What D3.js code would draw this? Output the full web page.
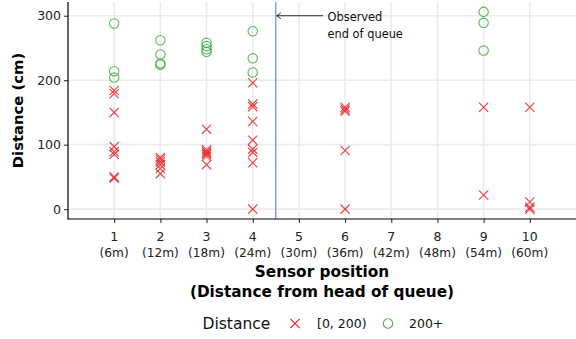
<!DOCTYPE html>
<html><head><meta charset="utf-8">
<script src="https://cdn.jsdelivr.net/npm/d3@7"></script>
<style>body{margin:0;background:#fff}svg{display:block}text{font-family:"DejaVu Sans",sans-serif}</style>
</head><body><svg id="c" width="576" height="339"></svg>
<script>
// Sensor positions and tick labels
const xTicks = [1,2,3,4,5,6,7,8,9,10];
const xTickLine2 = ["(6m)","(12m)","(18m)","(24m)","(30m)","(36m)","(42m)","(48m)","(54m)","(60m)"];
const yTicks = [0,100,200,300];
// Distance [0, 200) readings
const lowPos = [1,1,1,1,1,1,1,1, 2,2,2,2,2,2, 3,3,3,3,3,3,3, 4,4,4,4,4,4,4,4,4, 6,6,6,6,6, 9,9, 10,10,10,10];
const lowVal = [184,179,150,97,89,85,50,48, 80,77,73,69,63,55, 124,92,89,87,85,82,69, 196,163,159,136,107,93,88,72,0, 158,155,152,91,0, 158,22, 158,11,3,0];
// Distance 200+ readings
const highPos = [1,1,1, 2,2,2,2, 3,3,3,3, 4,4,4, 9,9,9];
const highVal = [288,214,204, 262,240,226,224, 258,253,248,244, 276,234,212, 306,289,246];
const queueEnd = 4.5;
const annotation = ["Observed","end of queue"];

const svg = d3.select("#c");
const L=68, R=576, T=2, B=219;
const x = d3.scaleLinear().domain([0,11]).range([L,R]);
const y = d3.scaleLinear().domain([-15.3,321.3]).range([B,T]);
const red="#e8262a", green="#4daf4a";

// grid
const g = svg.append("g");
g.selectAll(".gx").data(xTicks).join("line").attr("x1",d=>x(d)).attr("x2",d=>x(d)).attr("y1",T).attr("y2",B).attr("stroke","#ebebeb").attr("stroke-width",1.6);
g.selectAll(".gy").data(yTicks).join("line").attr("x1",L).attr("x2",R).attr("y1",d=>y(d)).attr("y2",d=>y(d)).attr("stroke","#ebebeb").attr("stroke-width",1.6);

// queue end line
svg.append("line").attr("x1",x(queueEnd)).attr("x2",x(queueEnd)).attr("y1",T).attr("y2",B).attr("stroke","#2f7fcf").attr("stroke-width",1);

// points
const cs=4.6;
const low = lowPos.map((p,i)=>({p, v:lowVal[i]}));
const high = highPos.map((p,i)=>({p, v:highVal[i]}));
svg.append("g").selectAll("path").data(low).join("path")
  .attr("d",d=>{const cx=x(d.p), cy=y(d.v);return `M${cx-cs},${cy-cs}L${cx+cs},${cy+cs}M${cx-cs},${cy+cs}L${cx+cs},${cy-cs}`;})
  .attr("stroke",red).attr("stroke-width",1.2).attr("fill","none").attr("opacity",0.85);
svg.append("g").selectAll("circle").data(high).join("circle")
  .attr("cx",d=>x(d.p)).attr("cy",d=>y(d.v)).attr("r",4.7)
  .attr("stroke",green).attr("stroke-width",1.1).attr("fill","none").attr("opacity",0.9);

// axes
const ya = svg.append("g").attr("transform",`translate(${L},0)`).call(d3.axisLeft(y).tickValues(yTicks).tickSize(4).tickPadding(3));
ya.select(".domain").remove();
ya.selectAll("line").attr("stroke","#333").attr("stroke-width",1.1);
ya.selectAll("text").attr("font-size",12.5).attr("fill","#222").attr("font-family","DejaVu Sans");
const xa = svg.append("g").attr("transform",`translate(0,${B})`).call(d3.axisBottom(x).tickValues(xTicks).tickSize(4).tickFormat(""));
xa.select(".domain").remove();
xa.selectAll("line").attr("stroke","#333").attr("stroke-width",1.1);
svg.append("g").selectAll("text").data(xTicks).join("text").attr("x",d=>x(d)).attr("y",240.5).attr("text-anchor","middle").attr("font-size",12.5).attr("fill","#222").text(d=>d);
svg.append("g").selectAll("text").data(xTickLine2).join("text").attr("x",(d,i)=>x(xTicks[i])).attr("y",257).attr("text-anchor","middle").attr("font-size",12.2).attr("fill","#222").text(d=>d);
svg.append("line").attr("x1",L).attr("x2",L).attr("y1",T).attr("y2",B+0.6).attr("stroke","#000").attr("stroke-width",1.2);
svg.append("line").attr("x1",L).attr("x2",R).attr("y1",B).attr("y2",B).attr("stroke","#000").attr("stroke-width",1.2);

// axis titles
svg.append("text").attr("transform",`translate(23,${(T+B)/2}) rotate(-90)`).attr("text-anchor","middle").attr("font-size",14.8).attr("font-weight","bold").text("Distance (cm)");
svg.append("text").attr("x",(L+R)/2).attr("y",277).attr("text-anchor","middle").attr("font-size",15.3).attr("font-weight","bold").text("Sensor position");
svg.append("text").attr("x",(L+R)/2).attr("y",297).attr("text-anchor","middle").attr("font-size",15.3).attr("font-weight","bold").text("(Distance from head of queue)");

// annotation
const ay = y(300);
svg.append("line").attr("x1",323).attr("x2",x(queueEnd)+1).attr("y1",ay).attr("y2",ay).attr("stroke","#000").attr("stroke-width",0.8);
svg.append("path").attr("d",`M${x(queueEnd)+5},${ay-3}L${x(queueEnd)+1},${ay}L${x(queueEnd)+5},${ay+3}`).attr("stroke","#000").attr("stroke-width",0.8).attr("fill","none");
svg.append("text").attr("x",327.5).attr("y",21).attr("font-size",11.4).attr("fill","#111").text(annotation[0]);
svg.append("text").attr("x",327.5).attr("y",37.5).attr("font-size",11.4).attr("fill","#111").text(annotation[1]);

// legend
const ly = 323.5;
svg.append("text").attr("x",202.5).attr("y",329).attr("font-size",15.5).attr("fill","#111").text("Distance");
svg.append("path").attr("d",`M${295-cs},${ly-cs}L${295+cs},${ly+cs}M${295-cs},${ly+cs}L${295+cs},${ly-cs}`).attr("stroke",red).attr("stroke-width",1.2).attr("fill","none");
svg.append("text").attr("x",317).attr("y",328).attr("font-size",12.5).attr("fill","#111").text("[0, 200)");
svg.append("circle").attr("cx",388).attr("cy",ly).attr("r",4.7).attr("stroke",green).attr("stroke-width",1.1).attr("fill","none");
svg.append("text").attr("x",409).attr("y",328).attr("font-size",12.5).attr("fill","#111").text("200+");
</script></body></html>
